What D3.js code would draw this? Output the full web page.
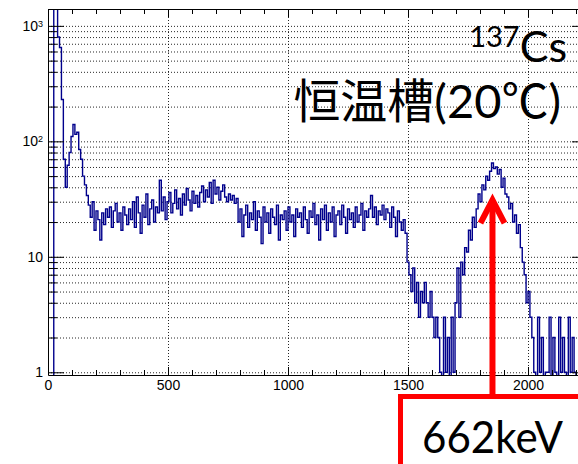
<!DOCTYPE html>
<html>
<head>
<meta charset="utf-8">
<script src="https://cdn.jsdelivr.net/npm/d3@7"></script>
<style>
body { margin: 0; background: #fff; }
#spectrum-chart { width: 578px; height: 464px; overflow: hidden; }
.axis text { font-family: "Liberation Sans", Arial, sans-serif; font-size: 14px; fill: #000; }
.axis path, .axis line { stroke: #000; }
.grid line { stroke: #000; stroke-dasharray: 1,2; stroke-opacity: 0.85; }
.grid path { display: none; }
</style>
</head>
<body>
<div id="spectrum-chart"></div>
<script>
// histogram of the 137Cs spectrum, 8 channels per bin
var binWidth = 8;
var counts = [
    0, 0, 0, 5200, 4100, 800, 650, 230, 70, 40, 62, 80, 110, 140, 115, 120, 85, 70, 50, 42, 34,
    28, 22, 30, 17, 25, 21,
    14, 24, 19, 26,
    22, 27, 18, 25, 29, 20, 24, 17, 27, 23, 19, 26,
    21, 30, 18, 33, 24, 16, 28, 22, 35, 19, 26, 31, 20, 27, 24,
    46,
    25, 33, 21, 30, 36, 24, 29, 38, 26, 32, 23, 35, 28, 39, 31, 25, 37, 29, 34, 27,
    36, 41, 30, 38, 33, 44, 29, 46, 35, 40, 31, 37, 42,
    33, 30, 35, 31, 34, 29, 32,
    20, 26, 15, 23, 28, 18, 24, 21, 30, 17, 25, 22, 13, 27, 20, 24, 16, 26, 22, 19, 28, 14, 23, 21, 25, 17, 27, 20, 23, 15, 26, 22,
    24, 18, 27, 21, 16, 25, 22, 29, 19, 23, 14, 26, 21, 28, 17, 24, 20, 27, 15, 23, 25, 19, 28, 22, 16, 26, 21, 24, 18, 27, 20, 23, 29, 17, 25, 22, 26,
    34,
    22, 27, 19, 25, 23, 28, 21, 26, 24, 18, 27, 22, 15, 25, 20, 17, 21,
    16, 9, 7, 5, 8, 4, 6, 3, 5, 4, 6, 4, 3, 5, 3, 2, 3,
    2, 1, 0, 3, 1, 2, 0, 3, 1,
    4, 8, 3, 9, 7, 12, 11, 17, 14, 22, 18, 26, 35, 30, 42, 38, 50, 46, 55, 65,
    58, 60, 52, 57, 40, 48, 35, 33, 26, 29, 20, 23, 16, 19, 12, 9, 7, 4, 5, 3, 2,
    1, 0, 3, 1, 2, 0, 1, 1, 3, 0, 2, 1, 0, 3, 1, 2, 1, 0, 3, 1, 2, 1, 0
];

// axis ranges and ticks
var xDomain = [0, 2250];
var yDomain = [0.947, 1400];
var xTickValues = [0, 500, 1000, 1500, 2000];
var yTickValues = [1, 10, 100, 1000];
var yTickBases = ['1', '10', '10', '10'];
var yTickExps = ['', '', '2', '3'];

// annotations
var isotopeMass = '137';
var isotopeSymbol = 'Cs';
var conditionLabel = '恒温槽(20℃)';
var peakLabel = '662keV';
var peakChannel = 1852;
var arrowTipCount = 31;

function SpectrumChart(counts)
{
    var self = this;
    self.counts = counts;
    self.init();
}

SpectrumChart.prototype.init = function()
{
    var self = this;
    var div = d3.select('#spectrum-chart');

    self.svgWidth = 578;
    self.svgHeight = 464;

    self.svg = div.append('svg')
        .attr('width', self.svgWidth)
        .attr('height', self.svgHeight);
};

SpectrumChart.prototype.update = function()
{
    var self = this;

    var x = d3.scaleLinear().domain(xDomain).range([48, 588]);
    var y = d3.scaleLog().domain(yDomain).range([375, 9]);

    var left = x.range()[0], right = x.range()[1];
    var top = y.range()[1], bottom = y.range()[0];

    // minor decade values for the log grid
    var logGrid = [];
    yTickValues.forEach(function(d) {
        for (var k = 1; k < 10; k++) {
            if (d * k <= yDomain[1]) logGrid.push(d * k);
        }
    });
    var logMinor = logGrid.filter(function(d) { return yTickValues.indexOf(d) < 0; });
    var xMinor = d3.range(0, xDomain[1] + 1, 100);

    // dotted grid
    self.svg.append('g')
        .attr('class', 'grid')
        .attr('transform', 'translate(' + left + ',0)')
        .call(d3.axisLeft(y).tickValues(logGrid).tickSize(-(right - left)).tickFormat(''));

    self.svg.append('g')
        .attr('class', 'grid')
        .attr('transform', 'translate(0,' + bottom + ')')
        .call(d3.axisBottom(x).tickValues(xTickValues.slice(1)).tickSize(-(bottom - top)).tickFormat(''));

    // histogram as step line
    var points = self.counts.map(function(c, i) { return [i * binWidth, c]; });
    points.push([self.counts.length * binWidth, self.counts[self.counts.length - 1]]);

    var line = d3.line()
        .x(function(d) { return x(d[0]); })
        .y(function(d) { return y(Math.max(d[1], yDomain[0] * 0.5)); })
        .curve(d3.curveStepAfter);

    self.svg.append('clipPath')
        .attr('id', 'frame-clip')
        .append('rect')
        .attr('x', left).attr('y', top)
        .attr('width', right - left).attr('height', bottom - top);

    self.svg.append('path')
        .attr('clip-path', 'url(#frame-clip)')
        .attr('d', line(points))
        .style('fill', 'none')
        .style('stroke', '#00008c')
        .style('stroke-width', 1.4);

    // axes (ticks point into the frame like ROOT)
    var xAxis = self.svg.append('g')
        .attr('class', 'axis')
        .attr('transform', 'translate(0,' + bottom + ')');
    xAxis.call(d3.axisBottom(x).tickValues(xMinor).tickSize(-5).tickSizeOuter(0).tickFormat(''));
    xAxis.append('g')
        .call(d3.axisBottom(x).tickValues(xTickValues).tickSize(-8).tickSizeOuter(0).tickPadding(5).tickFormat(d3.format('d')))
        .select('.domain').remove();

    var xTop = self.svg.append('g')
        .attr('class', 'axis')
        .attr('transform', 'translate(0,' + top + ')');
    xTop.call(d3.axisTop(x).tickValues(xMinor).tickSize(-5).tickSizeOuter(0).tickFormat(''));
    xTop.append('g').call(d3.axisTop(x).tickValues(xTickValues).tickSize(-8).tickSizeOuter(0).tickFormat(''))
        .select('.domain').remove();

    var yAxis = self.svg.append('g')
        .attr('class', 'axis')
        .attr('transform', 'translate(' + left + ',0)');
    yAxis.call(d3.axisLeft(y).tickValues(logMinor).tickSize(-9).tickSizeOuter(0).tickFormat(''));
    var yMajor = yAxis.append('g')
        .call(d3.axisLeft(y).tickValues(yTickValues).tickSize(-16).tickSizeOuter(0).tickPadding(5).tickFormat(''));
    yMajor.select('.domain').remove();
    yMajor.selectAll('.tick text').each(function(d, i) {
        var t = d3.select(this);
        t.append('tspan').text(yTickBases[i]);
        if (yTickExps[i]) {
            t.append('tspan')
                .attr('dy', '-0.45em')
                .style('font-size', '9px')
                .text(yTickExps[i]);
        }
    });

    var yRight = self.svg.append('g')
        .attr('class', 'axis')
        .attr('transform', 'translate(' + right + ',0)');
    yRight.call(d3.axisRight(y).tickValues(logMinor).tickSize(-9).tickSizeOuter(0).tickFormat(''));
    yRight.append('g').call(d3.axisRight(y).tickValues(yTickValues).tickSize(-16).tickSizeOuter(0).tickFormat(''))
        .select('.domain').remove();

    // annotations
    var label = self.svg.append('text')
        .attr('x', 567)
        .attr('y', 62)
        .attr('text-anchor', 'end')
        .style('font-family', 'Lato, "Noto Sans CJK JP", sans-serif')
        .style('fill', '#000');
    label.append('tspan').attr('dy', '-15').style('font-size', '29px').text(isotopeMass);
    label.append('tspan').attr('dy', '15').style('font-size', '43px').text(isotopeSymbol);

    self.svg.append('text')
        .attr('x', 561)
        .attr('y', 118)
        .attr('text-anchor', 'end')
        .style('font-family', 'Lato, "Noto Sans CJK JP", sans-serif')
        .style('font-size', '47px')
        .style('fill', '#000')
        .text(conditionLabel);

    var ax = x(peakChannel), tipY = y(arrowTipCount);

    self.svg.append('rect')
        .attr('x', 400.5).attr('y', 396.5)
        .attr('width', 300).attr('height', 100)
        .style('fill', '#fff')
        .style('stroke', '#ff0000')
        .style('stroke-width', 5);

    self.svg.append('line')
        .attr('x1', ax).attr('x2', ax)
        .attr('y1', 396).attr('y2', tipY + 3)
        .style('stroke', '#ff0000')
        .style('stroke-width', 6);

    self.svg.append('path')
        .attr('d', 'M' + (ax - 12) + ',' + (tipY + 23) + 'L' + ax + ',' + tipY + 'L' + (ax + 12) + ',' + (tipY + 23))
        .style('fill', 'none')
        .style('stroke', '#ff0000')
        .style('stroke-width', 6);

    self.svg.append('text')
        .attr('x', 422)
        .attr('y', 453)
        .attr('textLength', 141)
        .attr('lengthAdjust', 'spacingAndGlyphs')
        .style('font-family', 'Lato, sans-serif')
        .style('font-size', '45px')
        .style('fill', '#000')
        .text(peakLabel);
};

var chart = new SpectrumChart(counts);
chart.update();
</script>
</body>
</html>
